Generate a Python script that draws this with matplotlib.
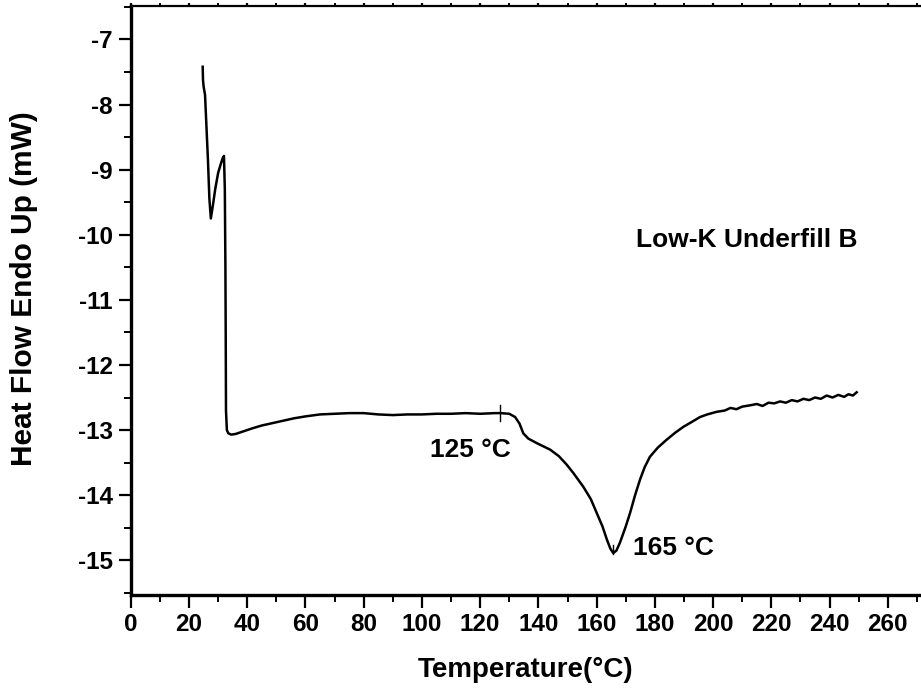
import matplotlib
matplotlib.use('Agg')
import matplotlib.pyplot as plt
from matplotlib.ticker import MultipleLocator

plt.rcParams['font.family'] = ['Liberation Sans', 'DejaVu Sans']
plt.rcParams['font.weight'] = 'bold'
plt.rcParams['axes.unicode_minus'] = False

# DSC curve
temperature = [24.7, 24.8, 25.0, 25.5, 26.0, 26.5, 27.0, 27.5, 28.2, 29.0, 30.0, 31.0,
               31.6, 32.0, 32.3, 32.5, 32.6, 32.7, 33.0, 33.5, 34.5,
               36, 38, 40, 42, 45, 48, 50, 53, 56, 60, 65, 70, 75, 80, 85, 90, 95,
               100, 105, 110, 115, 120, 125, 127, 130, 132, 133.5, 134.8, 136.5,
               139.4, 144, 147, 149.7, 152, 155.4, 158, 160, 162, 163.5, 164.7,
               165.7, 166.8, 168, 170, 171.5, 173.2, 174.9, 176.5, 178.3, 181, 184,
               187, 189.8, 192.5, 195.5, 198, 201.2, 204, 206, 208, 210, 212.7, 215,
               217, 219, 221, 223, 225, 227, 229, 231, 233, 235, 237, 239, 241, 243,
               245, 246.5, 248, 249.3]
heat_flow = [-7.42, -7.62, -7.72, -7.85, -8.35, -8.85, -9.45, -9.75, -9.55, -9.3, -9.05, -8.9,
             -8.82, -8.79, -9.3, -10.5, -11.5, -12.7, -13.0, -13.05, -13.07,
             -13.06, -13.03, -13.0, -12.97, -12.93, -12.9, -12.88, -12.85, -12.82, -12.79,
             -12.76, -12.75, -12.74, -12.74, -12.76, -12.77, -12.76,
             -12.76, -12.75, -12.75, -12.74, -12.75, -12.74, -12.74, -12.75, -12.8, -12.9,
             -13.05, -13.13,
             -13.2, -13.3, -13.4, -13.53, -13.66, -13.87, -14.06, -14.27, -14.48, -14.68,
             -14.82,
             -14.89, -14.85, -14.73, -14.48, -14.27, -14.0, -13.76, -13.57, -13.41, -13.27,
             -13.15,
             -13.04, -12.95, -12.88, -12.8, -12.76, -12.72, -12.7, -12.66, -12.68, -12.64,
             -12.62, -12.6,
             -12.63, -12.58, -12.59, -12.56, -12.58, -12.54, -12.56, -12.52, -12.54, -12.5,
             -12.52, -12.47, -12.5, -12.46,
             -12.49, -12.45, -12.47, -12.42]

# little tick marks on the curve at the two labelled temperatures
onset_T = [126.8, 126.8]
onset_H = [-12.62, -12.86]
peak_T = [165.7, 165.7]
peak_H = [-14.76, -14.90]

fig = plt.figure(figsize=(9.21, 6.90), dpi=100)
ax = fig.add_axes([0.142, 0.138, 0.858, 0.853])

ax.plot(temperature, heat_flow, color='black', lw=1.8)
ax.plot(onset_T, onset_H, color='black', lw=1.0)
ax.plot(peak_T, peak_H, color='black', lw=1.0)

ax.text(116.5, -13.30, '125 \u00b0C', fontsize=19, fontweight='bold', ha='center', va='center')
ax.text(186.3, -14.81, '165 \u00b0C', fontsize=19, fontweight='bold', ha='center', va='center')
ax.text(211.6, -10.08, 'Low-K Underfill B', fontsize=19, fontweight='bold', ha='center', va='center')

ax.set_xlim(0, 271.4)
ax.set_ylim(-15.53, -6.49)
ax.xaxis.set_major_locator(MultipleLocator(20))
ax.xaxis.set_minor_locator(MultipleLocator(10))
ax.yaxis.set_major_locator(MultipleLocator(1))
ax.yaxis.set_minor_locator(MultipleLocator(0.5))

ax.tick_params(which='major', direction='out', length=9, width=1.6, labelsize=17.5, pad=4)
ax.tick_params(which='minor', direction='out', length=5, width=1.4)
ax.tick_params(which='both', top=True)
ax.tick_params(axis='x', which='both', labeltop=False)
for t in ax.xaxis.get_ticklines(minor=False)[1::2] + ax.xaxis.get_ticklines(minor=True)[1::2]:
    t.set_markersize(2)
for lab in ax.get_xticklabels() + ax.get_yticklabels():
    lab.set_fontweight('bold')

ax.spines['right'].set_visible(False)
ax.spines['left'].set_linewidth(2.4)
ax.spines['bottom'].set_linewidth(2.4)
ax.spines['top'].set_linewidth(1.6)

ax.set_xlabel('Temperature(\u00b0C)', fontsize=20, fontweight='bold', labelpad=15)
ax.set_ylabel('Heat Flow Endo Up (mW)', fontsize=21.5, fontweight='bold')
ax.yaxis.set_label_coords(-0.118, 0.52)

fig.savefig('out.png', dpi=100)
